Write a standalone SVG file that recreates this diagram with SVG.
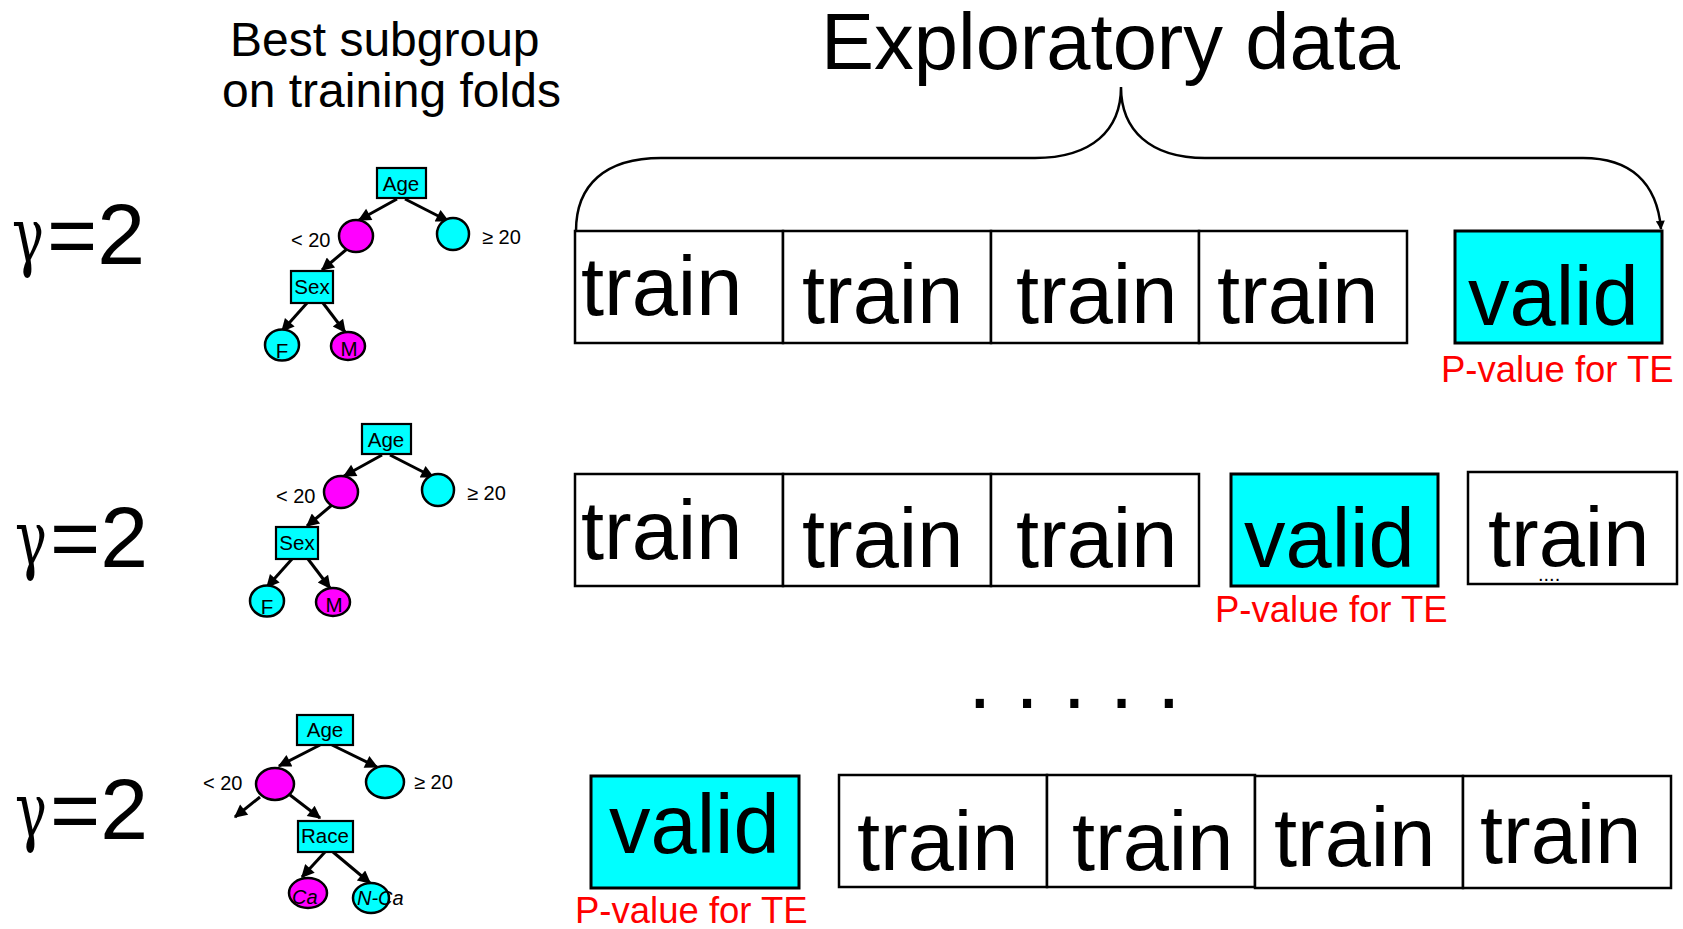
<svg xmlns="http://www.w3.org/2000/svg" width="1683" height="929" viewBox="0 0 1683 929">
<defs>
<style>
text{font-family:"Liberation Sans",Arial,sans-serif;fill:#000}
.big{font-size:83px}
.pv{font-size:36.5px;fill:#FF0000}
.gam{font-size:86px}
.gs{font-family:"DejaVu Serif","Liberation Serif",serif;font-size:76px}
.tl{font-size:20px}
.nd{font-size:20.5px;text-anchor:middle}
.box{fill:#fff;stroke:#000;stroke-width:2.5}
.vbox{fill:#00FFFF;stroke:#000;stroke-width:3}
.tbox{fill:#00FFFF;stroke:#000;stroke-width:2.2}
.cy{fill:#00FFFF;stroke:#000;stroke-width:2.5}
.mg{fill:#FF00FF;stroke:#000;stroke-width:2.5}
.arr{stroke:#000;stroke-width:3;fill:none;marker-end:url(#ah)}
</style>
<marker id="ah" viewBox="0 0 10 10" refX="9" refY="5" markerWidth="16" markerHeight="13" markerUnits="userSpaceOnUse" orient="auto"><path d="M0,0 L10,5 L0,10 z" fill="#000"/></marker>
<marker id="bh" viewBox="0 0 10 10" refX="9" refY="5" markerWidth="14" markerHeight="9" markerUnits="userSpaceOnUse" orient="auto"><path d="M0,0 L10,5 L0,10 z" fill="#000"/></marker>
</defs>
<rect width="1683" height="929" fill="#fff"/>

<g id="title">
<text x="821" y="69" font-size="79.5">Exploratory data</text>
</g>
<g id="subtitle">
<text x="230" y="56" font-size="48">Best subgroup</text>
<text x="222" y="107" font-size="48">on training folds</text>
</g>

<g id="gamma1"><text class="gs" x="12" y="262" textLength="32" lengthAdjust="spacingAndGlyphs">γ</text><text class="gam" x="47" y="264">=2</text></g>
<g id="gamma2"><text class="gs" x="15" y="565" textLength="32" lengthAdjust="spacingAndGlyphs">γ</text><text class="gam" x="50" y="567">=2</text></g>
<g id="gamma3"><text class="gs" x="15" y="837" textLength="32" lengthAdjust="spacingAndGlyphs">γ</text><text class="gam" x="50" y="839">=2</text></g>

<g id="connectors">
<path d="M576 231 C576 185 605 158 661 158 L1035 158 C1092 158 1121 130 1121 87 C1121 130 1150 158 1205 158 L1583 158 C1630 158 1657 182 1661 229" fill="none" stroke="#000" stroke-width="2.5" marker-end="url(#bh)"/>
<g id="tree1-edges">
<line class="arr" x1="397" y1="199" x2="359" y2="220"/>
<line class="arr" x1="405" y1="199" x2="448" y2="221"/>
<line class="arr" x1="347" y1="249" x2="322" y2="270"/>
<line class="arr" x1="307" y1="303" x2="282" y2="331"/>
<line class="arr" x1="323" y1="303" x2="345" y2="332"/>
</g>
<g id="tree2-edges" transform="translate(-15,256)">
<line class="arr" x1="397" y1="199" x2="359" y2="220"/>
<line class="arr" x1="405" y1="199" x2="448" y2="221"/>
<line class="arr" x1="347" y1="249" x2="322" y2="270"/>
<line class="arr" x1="307" y1="303" x2="282" y2="331"/>
<line class="arr" x1="323" y1="303" x2="345" y2="332"/>
</g>
<g id="tree3-edges">
<line class="arr" x1="320" y1="745" x2="279" y2="766"/>
<line class="arr" x1="332" y1="745" x2="377" y2="767"/>
<line class="arr" x1="260" y1="797" x2="235" y2="817"/>
<line class="arr" x1="290" y1="795" x2="320" y2="818"/>
<line class="arr" x1="325" y1="852" x2="302" y2="877"/>
<line class="arr" x1="333" y1="852" x2="370" y2="883"/>
</g>
</g>

<g id="tree1">
<g id="t1-age"><rect class="tbox" x="377" y="168" width="49" height="30"/><text class="nd" x="401" y="191">Age</text></g>
<g id="t1-lt"><ellipse class="mg" cx="356" cy="236" rx="17" ry="16"/><text class="tl" x="291" y="247">&lt; 20</text></g>
<g id="t1-ge"><ellipse class="cy" cx="453" cy="234" rx="16" ry="16"/><text class="tl" x="482" y="244">≥ 20</text></g>
<g id="t1-sex"><rect class="tbox" x="291" y="271" width="42" height="32"/><text class="nd" x="312" y="294">Sex</text></g>
<g id="t1-f"><ellipse class="cy" cx="282" cy="345" rx="17" ry="15.5"/><text class="nd" x="282" y="358">F</text></g>
<g id="t1-m"><ellipse class="mg" cx="348" cy="346" rx="17" ry="14"/><text class="nd" x="349" y="356">M</text></g>
</g>

<g id="tree2" transform="translate(-15,256)">
<g id="t2-age"><rect class="tbox" x="377" y="168" width="49" height="30"/><text class="nd" x="401" y="191">Age</text></g>
<g id="t2-lt"><ellipse class="mg" cx="356" cy="236" rx="17" ry="16"/><text class="tl" x="291" y="247">&lt; 20</text></g>
<g id="t2-ge"><ellipse class="cy" cx="453" cy="234" rx="16" ry="16"/><text class="tl" x="482" y="244">≥ 20</text></g>
<g id="t2-sex"><rect class="tbox" x="291" y="271" width="42" height="32"/><text class="nd" x="312" y="294">Sex</text></g>
<g id="t2-f"><ellipse class="cy" cx="282" cy="345" rx="17" ry="15.5"/><text class="nd" x="282" y="358">F</text></g>
<g id="t2-m"><ellipse class="mg" cx="348" cy="346" rx="17" ry="14"/><text class="nd" x="349" y="356">M</text></g>
</g>

<g id="tree3">
<g id="t3-age"><rect class="tbox" x="297" y="715" width="56" height="30"/><text class="nd" x="325" y="737">Age</text></g>
<g id="t3-lt"><ellipse class="mg" cx="275" cy="784" rx="19" ry="16"/><text class="tl" x="203" y="790">&lt; 20</text></g>
<g id="t3-ge"><ellipse class="cy" cx="385" cy="782" rx="19" ry="16"/><text class="tl" x="414" y="789">≥ 20</text></g>
<g id="t3-race"><rect class="tbox" x="298" y="821" width="55" height="31"/><text class="nd" x="325" y="843">Race</text></g>
<g id="t3-ca"><ellipse class="mg" cx="308" cy="893" rx="19" ry="15"/><text class="tl" x="292" y="904" font-style="italic" font-size="21">Ca</text></g>
<g id="t3-nca"><ellipse class="cy" cx="371" cy="898" rx="18" ry="15"/><text class="tl" x="357" y="905" font-style="italic" font-size="21">N-Ca</text></g>
</g>

<g id="row1">
<g id="r1-f1"><rect class="box" x="575" y="231" width="208" height="112"/><text class="big" x="581" y="315">train</text></g>
<g id="r1-f2"><rect class="box" x="783" y="231" width="208" height="112"/><text class="big" x="802" y="323">train</text></g>
<g id="r1-f3"><rect class="box" x="991" y="231" width="208" height="112"/><text class="big" x="1016" y="323">train</text></g>
<g id="r1-f4"><rect class="box" x="1199" y="231" width="208" height="112"/><text class="big" x="1217" y="323">train</text></g>
<g id="r1-v"><rect class="vbox" x="1455" y="231" width="207" height="112"/><text class="big" x="1468" y="325">valid</text><text class="pv" x="1441" y="382">P-value for TE</text></g>
</g>

<g id="row2">
<g id="r2-f1"><rect class="box" x="575" y="474" width="208" height="112"/><text class="big" x="581" y="559">train</text></g>
<g id="r2-f2"><rect class="box" x="783" y="474" width="208" height="112"/><text class="big" x="802" y="567">train</text></g>
<g id="r2-f3"><rect class="box" x="991" y="474" width="208" height="112"/><text class="big" x="1016" y="567">train</text></g>
<g id="r2-v"><rect class="vbox" x="1231" y="474" width="207" height="112"/><text class="big" x="1244" y="567">valid</text><text class="pv" x="1215" y="622">P-value for TE</text></g>
<g id="r2-f5"><rect class="box" x="1468" y="472" width="209" height="112"/><text class="big" x="1488" y="566">train</text><text x="1538" y="581" font-size="20">....</text></g>
</g>

<g id="ellipsis"><text x="968" y="708" font-size="85">. . . . .</text></g>

<g id="row3">
<g id="r3-v"><rect class="vbox" x="591" y="776" width="208" height="112"/><text class="big" x="609" y="853">valid</text><text class="pv" x="575" y="923">P-value for TE</text></g>
<g id="r3-f1"><rect class="box" x="839" y="775" width="208" height="112"/><text class="big" x="857" y="870">train</text></g>
<g id="r3-f2"><rect class="box" x="1047" y="775" width="208" height="112"/><text class="big" x="1072" y="870">train</text></g>
<g id="r3-f3"><rect class="box" x="1255" y="776" width="208" height="112"/><text class="big" x="1274" y="866">train</text></g>
<g id="r3-f4"><rect class="box" x="1463" y="776" width="208" height="112"/><text class="big" x="1480" y="863">train</text></g>
</g>
</svg>
